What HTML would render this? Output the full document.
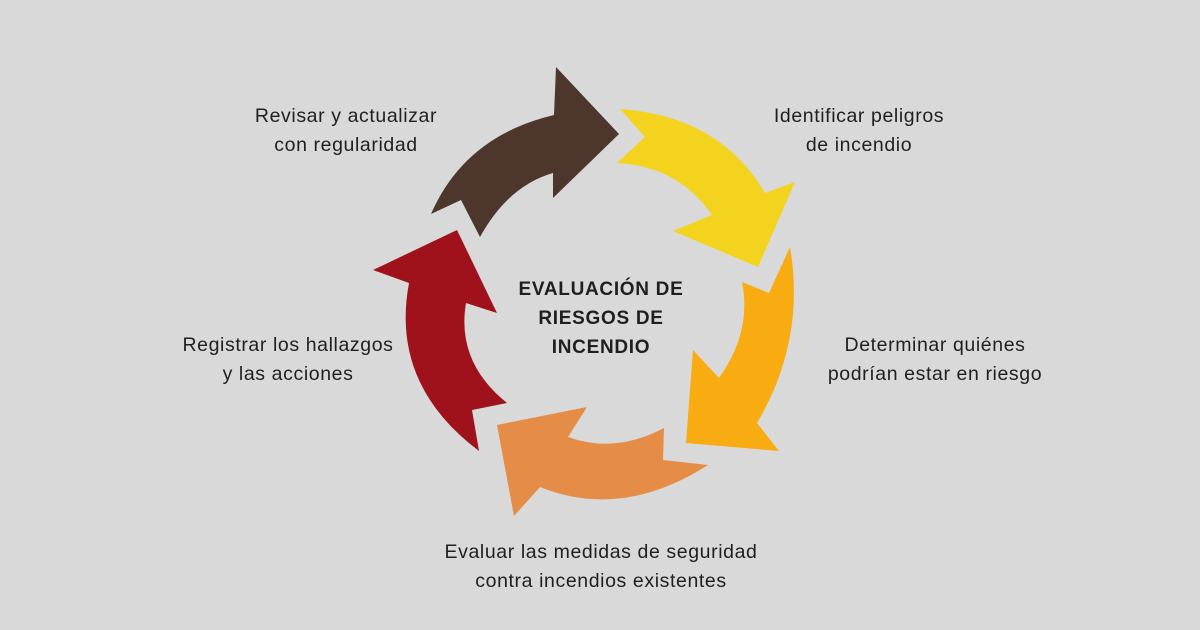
<!DOCTYPE html>
<html><head><meta charset="utf-8"><style>
html,body{margin:0;padding:0;background:#d9d9d9;}
svg{display:block}
text{font-family:"Liberation Sans","DejaVu Sans",sans-serif;font-size:19.5px;letter-spacing:0.6px;fill:#1f1f1f;text-anchor:middle}
.b{font-weight:bold;font-size:19px;letter-spacing:0.7px}
</style></head><body>
<svg width="1200" height="630" viewBox="0 0 1200 630">
<rect width="1200" height="630" fill="#d9d9d9"/>
<path d="M431,214 L461,200 L480,237 Q508,186 553,173 L553,198 L619,134 L556,67 L554,115 Q465,136 431,214 Z" fill="#4d362b"/>
<path d="M620,109 L645,137 L617,163 Q678,166 712,215 L673,231 L758,267 L795,182 L765,193 Q720,116 620,109 Z" fill="#f4d31f"/>
<path d="M790,247 L769,293 L742,282 Q752,332 719,378 L693,350 L686,443 L779,451 L757,423 Q806,340 790,247 Z" fill="#f9ab12"/>
<path d="M708,465 L663,460 L664,428 Q615,454 568,437 L587,407 L497,425 L514,516 L540,487 Q622,520 708,465 Z" fill="#e58c47"/>
<path d="M479,451 L472,410 L507,403 Q456,362 466,303 L497,313 L457,230 L373,270 L409,283 Q390,384 479,451 Z" fill="#9f111b"/>
<text x="346" y="122">Revisar y actualizar</text>
<text x="346" y="151">con regularidad</text>
<text x="859" y="122">Identificar peligros</text>
<text x="859" y="151">de incendio</text>
<text x="935" y="351">Determinar quiénes</text>
<text x="935" y="380">podrían estar en riesgo</text>
<text x="288" y="351">Registrar los hallazgos</text>
<text x="288" y="380">y las acciones</text>
<text x="601" y="558">Evaluar las medidas de seguridad</text>
<text x="601" y="587">contra incendios existentes</text>
<text class="b" x="601" y="295">EVALUACIÓN DE</text>
<text class="b" x="601" y="324">RIESGOS DE</text>
<text class="b" x="601" y="353">INCENDIO</text>
</svg>
</body></html>
